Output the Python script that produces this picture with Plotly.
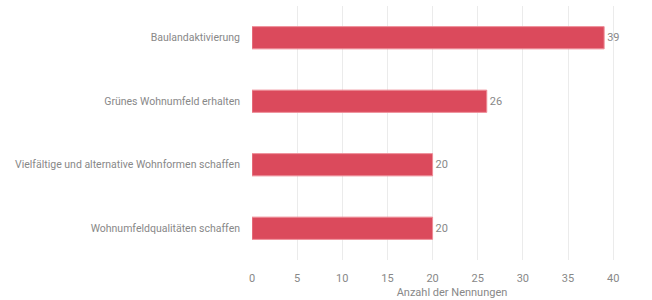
import plotly.graph_objects as go

categories = [
    "Baulandaktivierung",
    "Grünes Wohnumfeld erhalten",
    "Vielfältige und alternative Wohnformen schaffen",
    "Wohnumfeldqualitäten schaffen",
]
values = [39, 26, 20, 20]
x_ticks = [0, 5, 10, 15, 20, 25, 30, 35, 40]
x_title = "Anzahl der Nennungen"

font_family = "Roboto, Liberation Sans, Arial, sans-serif"
text_color = "#888888"
fs = 10.5

fig = go.Figure(
    go.Bar(
        x=values,
        y=categories,
        orientation="h",
        marker=dict(color="#DB4A5C", line=dict(color="#EE8C96", width=1)),
        text=[str(v) for v in values],
        textposition="outside",
        textfont=dict(family=font_family, size=fs + 0.5, color=text_color),
        cliponaxis=False,
        width=0.35,
    )
)

fig.update_layout(
    width=652,
    height=300,
    margin=dict(l=252, r=0, t=6, b=40, autoexpand=False),
    paper_bgcolor="white",
    plot_bgcolor="white",
    showlegend=False,
    font=dict(family=font_family, size=fs, color=text_color),
    xaxis=dict(
        range=[0, 44.3],
        tickvals=x_ticks,
        automargin=False,
        showgrid=True,
        gridcolor="#EBEBEB",
        gridwidth=1,
        zeroline=False,
        showline=False,
        ticks="outside",
        ticklen=8,
        tickcolor="rgba(0,0,0,0)",
        tickfont=dict(size=fs + 0.5, color=text_color),
        title=dict(text=x_title, standoff=4, font=dict(size=fs + 0.5, color=text_color)),
    ),
    yaxis=dict(
        categoryorder="array",
        categoryarray=categories[::-1],
        automargin=False,
        showgrid=False,
        zeroline=False,
        showline=False,
        ticks="",
        ticklabelstandoff=11,
        tickfont=dict(size=fs, color=text_color),
    ),
)

fig.write_html(
    "out.html",
    config={"displayModeBar": False},
    post_script="document.body.style.margin='0';document.body.style.overflow='hidden';",
)
